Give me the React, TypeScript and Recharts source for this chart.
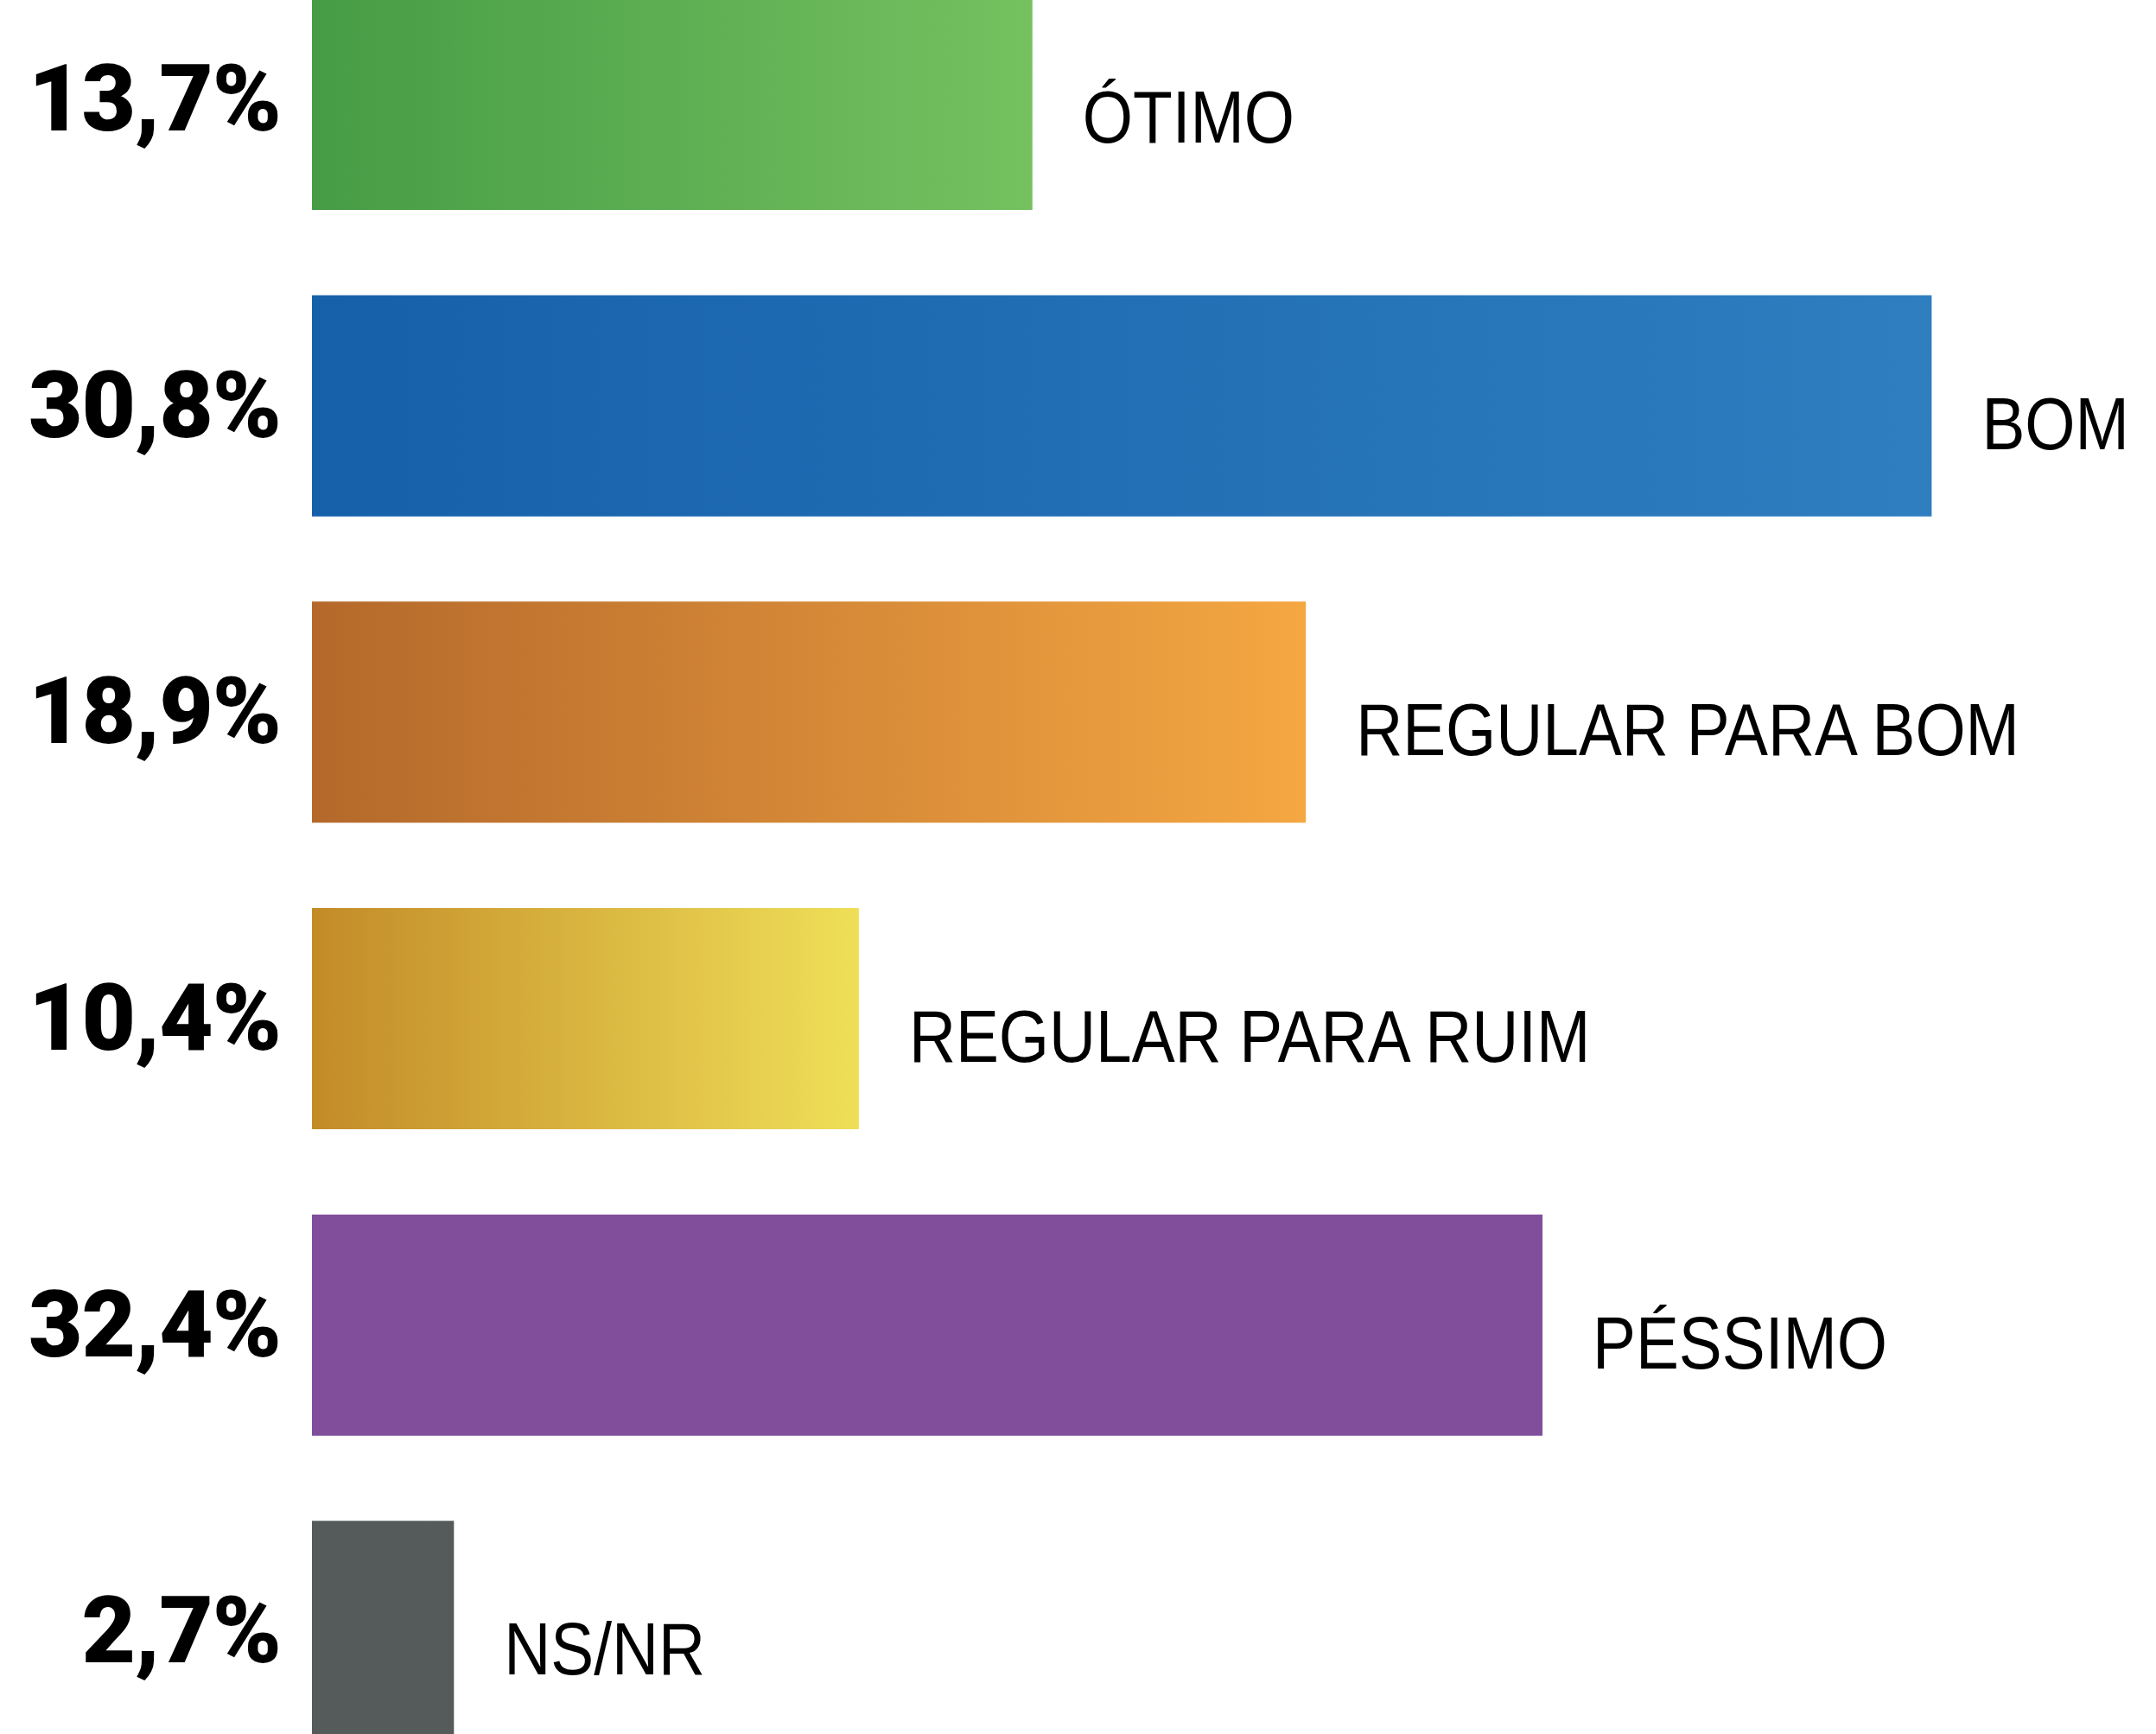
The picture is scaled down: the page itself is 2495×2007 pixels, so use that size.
import React from 'react';
import { BarChart, Bar, XAxis, YAxis, Cell, LabelList } from 'recharts';

// categories, shown percentages, and bar lengths as drawn in the original
const categories = ['ÓTIMO', 'BOM', 'REGULAR PARA BOM', 'REGULAR PARA RUIM', 'PÉSSIMO', 'NS/NR'];
const percentLabels = ['13,7%', '30,8%', '18,9%', '10,4%', '32,4%', '2,7%'];
const barLengths = [13.7, 30.8, 18.9, 10.4, 23.4, 2.7];

const gradients = [
  ['#469C45', '#75C160'],
  ['#1660AA', '#2F7EC0'],
  ['#B4692B', '#F5A742'],
  ['#C38B28', '#EFDF58'],
  ['#814E9C', '#814E9C'],
  ['#555A5B', '#555A5B'],
];

const chartData = categories.map((name, i) => ({
  name,
  pct: percentLabels[i],
  value: barLengths[i],
}));

const PercentLabel = (props: any) => {
  const { x, y, height, value } = props;
  return (
    <text
      x={x - 36}
      y={y + height / 2}
      dy={36}
      textAnchor="end"
      fontFamily="Roboto, 'Liberation Sans', sans-serif"
      fontWeight={900}
      fontSize={108}
      letterSpacing={-1}
      fill="#000"
    >
      {value}
    </text>
  );
};

// condensed look for the category names
const NameLabel = (props: any) => {
  const { x, y, width, height, value } = props;
  const tx = x + width + 58;
  const ty = y + height / 2 + 50;
  return (
    <g transform={`translate(${tx},${ty}) scale(0.87,1)`}>
      <text
        x={0}
        y={0}
        textAnchor="start"
        fontFamily="'Liberation Sans Narrow', 'Liberation Sans', sans-serif"
        fontSize={86}
        fill="#000"
      >
        {value}
      </text>
    </g>
  );
};

export default function App() {
  return (
    <div
      style={{
        position: 'absolute',
        top: 0,
        left: 0,
        width: 2495,
        height: 2007,
        overflow: 'hidden',
        background: '#fff',
      }}
    >
      <div style={{ position: 'absolute', top: -62, left: 0 }}>
        <BarChart
          width={2495}
          height={2128}
          data={chartData}
          layout="vertical"
          margin={{ top: 0, right: 4, bottom: 0, left: 361 }}
        >
          <defs>
            {gradients.map((g, i) => (
              <linearGradient key={i} id={`grad-${i}`} x1="0" y1="0" x2="1" y2="0">
                <stop offset="0%" stopColor={g[0]} />
                <stop offset="100%" stopColor={g[1]} />
              </linearGradient>
            ))}
          </defs>
          <XAxis type="number" domain={[0, 35]} hide />
          <YAxis type="category" dataKey="name" hide />
          <Bar dataKey="value" barSize={256} isAnimationActive={false}>
            {chartData.map((_, i) => (
              <Cell key={i} fill={`url(#grad-${i})`} />
            ))}
            <LabelList dataKey="pct" content={<PercentLabel />} />
            <LabelList dataKey="name" content={<NameLabel />} />
          </Bar>
        </BarChart>
      </div>
    </div>
  );
}
